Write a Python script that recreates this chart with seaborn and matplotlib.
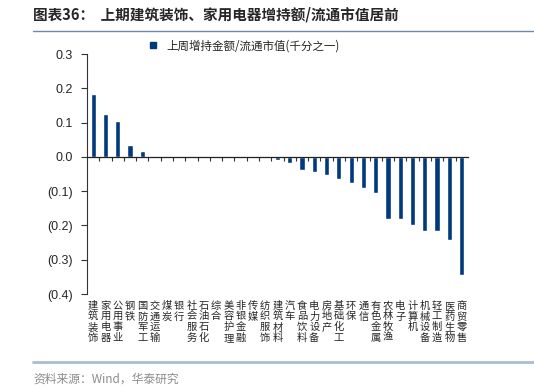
import numpy as np
import pandas as pd
import matplotlib
matplotlib.use("Agg")
import matplotlib.pyplot as plt
import seaborn as sns
from matplotlib.lines import Line2D
from matplotlib.ticker import FixedLocator, FuncFormatter

industries = ["建筑装饰", "家用电器", "公用事业", "钢铁", "国防军工", "交通运输", "煤炭", "银行",
              "社会服务", "石油石化", "综合", "美容护理", "非银金融", "传媒", "纺织服饰", "建筑材料",
              "汽车", "食品饮料", "电力设备", "房地产", "基础化工", "环保", "通信", "有色金属",
              "农林牧渔", "电子", "计算机", "机械设备", "轻工制造", "医药生物", "商贸零售"]
values = [0.183, 0.125, 0.105, 0.036, 0.016, 0.001, 0.0005, 0.0003,
          0.0002, 0.0001, -0.0001, -0.0002, -0.0004, -0.0008, -0.002, -0.008,
          -0.019, -0.037, -0.044, -0.052, -0.064, -0.077, -0.090, -0.106,
          -0.180, -0.182, -0.198, -0.215, -0.217, -0.242, -0.345]
series_name = "上周增持金额/流通市值(千分之一)"
title = "图表36：  上期建筑装饰、家用电器增持额/流通市值居前"
source = "资料来源：Wind，华泰研究"

df = pd.DataFrame({"industry": industries, "value": values})

sns.set_style("white")
plt.rcParams["font.family"] = ["Liberation Sans", "Noto Sans CJK SC", "DejaVu Sans"]

bar_color = "#003A7D"

fig = plt.figure(figsize=(5.34, 3.92), dpi=100)
ax = fig.add_axes([0.163, 0.25, 0.713, 0.612])

sns.barplot(data=df, x="industry", y="value", color=bar_color, width=0.42,
            saturation=1, ax=ax)

ax.set_ylim(-0.4, 0.3)
ax.set_xlim(-0.5, len(industries) - 0.5)
ax.set_yticks(np.arange(-0.4, 0.31, 0.1))
ax.yaxis.set_major_formatter(FuncFormatter(
    lambda v, p: f"({abs(v):.1f})" if v < -1e-9 else f"{abs(v):.1f}"))
ax.tick_params(axis="y", labelsize=9, length=4, width=0.8, direction="out",
               left=True, color="#333333", pad=6)

# vertical category labels under the plot area
ax.set_xticks(range(len(industries)))
ax.set_xticklabels([])
ax.tick_params(axis="x", which="major", length=0)
for i, name in enumerate(industries):
    ax.text(i, -0.42, "\n".join(name), ha="center", va="top", fontsize=7.4,
            linespacing=1.08, family=["Noto Sans CJK SC"])

# ticks between categories along the zero line
ax.xaxis.set_minor_locator(FixedLocator(np.arange(0.5, len(industries) - 0.5, 1)))
ax.tick_params(axis="x", which="minor", length=3, width=0.8, color="#333333",
               direction="out", bottom=True)

for s in ["top", "right"]:
    ax.spines[s].set_visible(False)
ax.spines["bottom"].set_position(("data", 0))
ax.spines["bottom"].set_color("#222222")
ax.spines["bottom"].set_linewidth(0.9)
ax.spines["left"].set_color("#333333")
ax.spines["left"].set_linewidth(0.8)
ax.set_xlabel("")
ax.set_ylabel("")

ax.legend(handles=[Line2D([], [], marker="s", linestyle="", color=bar_color, markersize=5)],
          labels=[series_name], loc="upper left", bbox_to_anchor=(0.13, 1.08),
          frameon=False, handletextpad=0.2, borderaxespad=0,
          prop={"family": ["Noto Sans CJK SC"], "size": 8.3})

fig.text(0.062, 0.962, title, fontsize=10.5, fontweight="bold", va="center",
         family=["Noto Sans CJK SC", "Liberation Sans"])
fig.add_artist(Line2D([0.062, 1.0], [0.922, 0.922], color="#6F8AAE", linewidth=1.0))
fig.add_artist(Line2D([0.062, 1.0], [0.077, 0.077], color="#A8BDD6", linewidth=2.0))
fig.text(0.062, 0.032, source, fontsize=8.5, color="#8C8C8C", va="center",
         family=["Noto Sans CJK SC", "Liberation Sans"])

fig.savefig("out.png", dpi=100)
